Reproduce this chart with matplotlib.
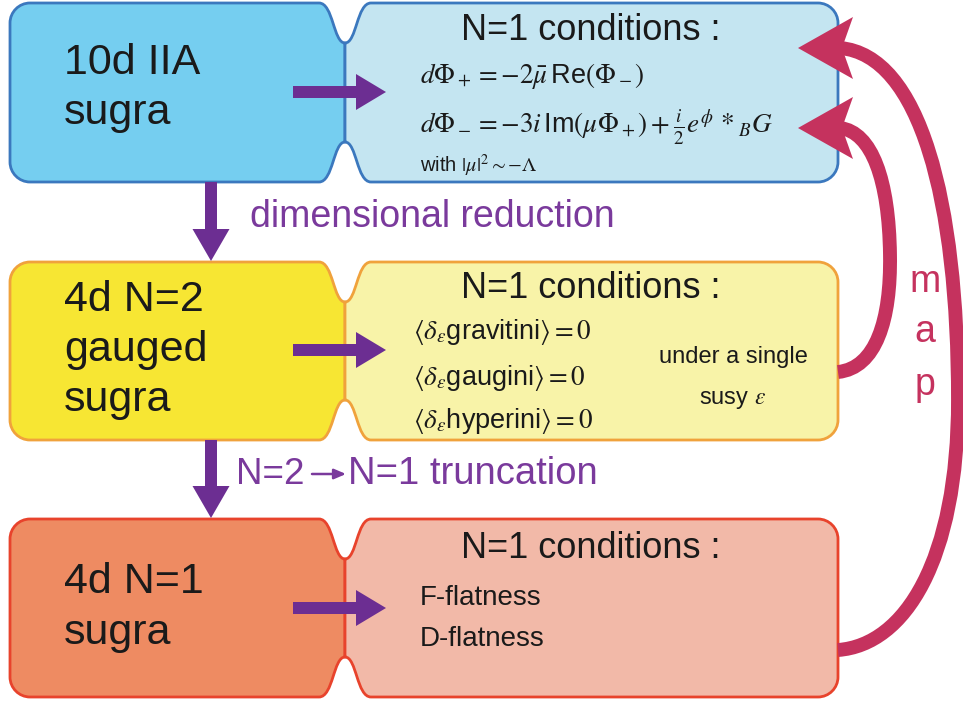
import matplotlib
matplotlib.use("Agg")
import matplotlib.pyplot as plt
from matplotlib.path import Path
from matplotlib.patches import PathPatch, FancyArrow, Polygon
import numpy as np

plt.rcParams['font.family'] = ['Liberation Sans', 'DejaVu Sans']
plt.rcParams['mathtext.fontset'] = 'custom'
plt.rcParams['mathtext.rm'] = 'STIXGeneral'
plt.rcParams['mathtext.it'] = 'STIXGeneral:italic'
plt.rcParams['mathtext.bf'] = 'STIXGeneral:bold'
plt.rcParams['mathtext.sf'] = 'Liberation Sans'
plt.rcParams['mathtext.fallback'] = 'stix'

# ---- content ----
left_labels = [["10d IIA", "sugra"], ["4d N=2", "gauged", "sugra"], ["4d N=1", "sugra"]]
cond_title = "N=1 conditions :"
row1_eqs = [r'$d\Phi_+ = -2\bar{\mu}\,\mathsf{Re}(\Phi_-)$',
            r'$d\Phi_- = -3i\,\mathsf{Im}(\mu\Phi_+) + \frac{i}{2}e^{\phi}\,*_B G$']
row1_note = r'with $|\mu|^2{\sim}{-}\Lambda$'
row2_eqs = [r'$\langle\delta_\varepsilon\mathsf{gravitini}\rangle = 0$',
            r'$\langle\delta_\varepsilon\mathsf{gaugini}\rangle = 0$',
            r'$\langle\delta_\varepsilon\mathsf{hyperini}\rangle = 0$']
row2_side = ["under a single", r'susy $\varepsilon$']
row3_items = ["F-flatness", "D-flatness"]
step1_label = "dimensional reduction"
step2_from, step2_to = "N=2", "N=1 truncation"
map_letters = ["m", "a", "p"]

left_colors = ["#75CEF0", "#F7E633", "#EE8B62"]
right_colors = ["#C4E5F1", "#F8F3A8", "#F2B9A8"]
edge_colors = ["#3B78BE", "#F0A23C", "#E8432C"]
purple = "#6C2E92"
text_purple = "#7A3A9C"
crimson = "#C5325E"

fig = plt.figure(figsize=(9.63, 7.04), dpi=100)
ax = fig.add_axes([0, 0, 1, 1])
ax.set_xlim(0, 963)
ax.set_ylim(704, 0)
ax.axis('off')

rows_y = [(3, 182), (262, 440), (519, 697)]
x0, xm, x1 = 10, 345, 838
r, d, w = 20, 40, 26


def shape(y0, y1, xa, sgn):
    """Rounded box from outer edge xa to the notched divider xm."""
    k = 0.45
    verts = [(xa, y0 + r),
             (xa, y0 + r * k), (xa + sgn * r * k, y0), (xa + sgn * r, y0),
             (xm - sgn * w, y0),
             (xm - sgn * w * k, y0), (xm - sgn * w * k, y0 + d), (xm, y0 + d),
             (xm, y1 - d),
             (xm - sgn * w * k, y1 - d), (xm - sgn * w * k, y1), (xm - sgn * w, y1),
             (xa + sgn * r, y1),
             (xa + sgn * r * k, y1), (xa, y1 - r * k), (xa, y1 - r),
             (xa, y0 + r)]
    codes = [Path.MOVETO] + [Path.CURVE4] * 3 + [Path.LINETO] + [Path.CURVE4] * 3 + \
            [Path.LINETO] + [Path.CURVE4] * 3 + [Path.LINETO] + [Path.CURVE4] * 3 + [Path.CLOSEPOLY]
    return Path(verts, codes)


for i, (y0, y1) in enumerate(rows_y):
    ax.add_patch(PathPatch(shape(y0, y1, x0, 1), facecolor=left_colors[i],
                           edgecolor=edge_colors[i], lw=2.0, zorder=1))
    ax.add_patch(PathPatch(shape(y0, y1, x1, -1), facecolor=right_colors[i],
                           edgecolor=edge_colors[i], lw=2.0, zorder=1))

# left labels
label_y = [[63, 113], [300, 350, 400], [582, 633]]
for labs, ys in zip(left_labels, label_y):
    for t, y in zip(labs, ys):
        ax.text(64, y, t, fontsize=31, color="#1a1a1a", va='center', ha='left')

# condition titles
for y in [30, 289, 548]:
    ax.text(591, y, cond_title, fontsize=26, color="#1a1a1a", va='center', ha='center')

# row 1 equations
ax.text(420, 76, row1_eqs[0], fontsize=19.5, va='center', ha='left', color="#1a1a1a")
ax.text(420, 127, row1_eqs[1], fontsize=19.5, va='center', ha='left', color="#1a1a1a")
ax.text(420, 166, row1_note, fontsize=14.5, va='center', ha='left', color="#1a1a1a")

# row 2
for t, y in zip(row2_eqs, [332, 378, 421]):
    ax.text(413, y, t, fontsize=19.5, va='center', ha='left', color="#1a1a1a")
ax.text(733, 357, row2_side[0], fontsize=17, va='center', ha='center', color="#1a1a1a")
ax.text(733, 400, row2_side[1], fontsize=17, va='center', ha='center', color="#1a1a1a")

# row 3
for t, y in zip(row3_items, [598, 639]):
    ax.text(420, y, t, fontsize=20, va='center', ha='left', color="#1a1a1a")

# step labels
ax.text(250, 217, step1_label, fontsize=27, va='center', ha='left', color=text_purple)
ax.text(236, 474, step2_from, fontsize=26.5, va='center', ha='left', color=text_purple)
ax.text(348, 474, step2_to, fontsize=27.5, va='center', ha='left', color=text_purple)
ax.annotate("", xy=(346, 474), xytext=(312, 474),
            arrowprops=dict(arrowstyle="-|>,head_length=0.7,head_width=0.3",
                            color=text_purple, lw=1.8, shrinkA=0, shrinkB=0))

# map letters
for t, y in zip(map_letters, [282, 332, 385]):
    ax.text(925, y, t, fontsize=27, va='center', ha='center', color=crimson)

# purple arrows
for (ya, yb) in [(182, 261), (440, 518)]:
    ax.add_patch(FancyArrow(211, ya, 0, yb - ya, width=12, head_width=37,
                            head_length=32, length_includes_head=True,
                            color=purple, zorder=3, lw=0))
for y in [92, 350, 608]:
    ax.add_patch(FancyArrow(293, y, 93, 0, width=12, head_width=36,
                            head_length=30, length_includes_head=True,
                            color=purple, zorder=3, lw=0))

# map curves


def curve(points, tip):
    codes = [Path.MOVETO] + [Path.CURVE4] * (len(points) - 1)
    ax.add_patch(PathPatch(Path(points, codes), facecolor='none', edgecolor=crimson,
                           lw=10, capstyle='butt', zorder=4))
    t = np.array(tip, float)
    u = np.array([-1.0, 0.0])
    n = np.array([0.0, 1.0])
    L, W = 55, 31
    base = t - L * u
    poly = [t, base + W * n, t - 0.8 * L * u, base - W * n]
    ax.add_patch(Polygon(poly, closed=True, facecolor=crimson, edgecolor='none', zorder=5))


outer = [(838, 650), (905, 645), (958, 560), (958, 400),
         (958, 200), (920, 55), (840, 48)]
inner = [(838, 372), (876, 368), (891, 320), (890, 255),
         (889, 180), (872, 132), (840, 128)]
curve(outer, (798, 48))
curve(inner, (798, 128))

fig.savefig("out.png", dpi=100, facecolor='white')
